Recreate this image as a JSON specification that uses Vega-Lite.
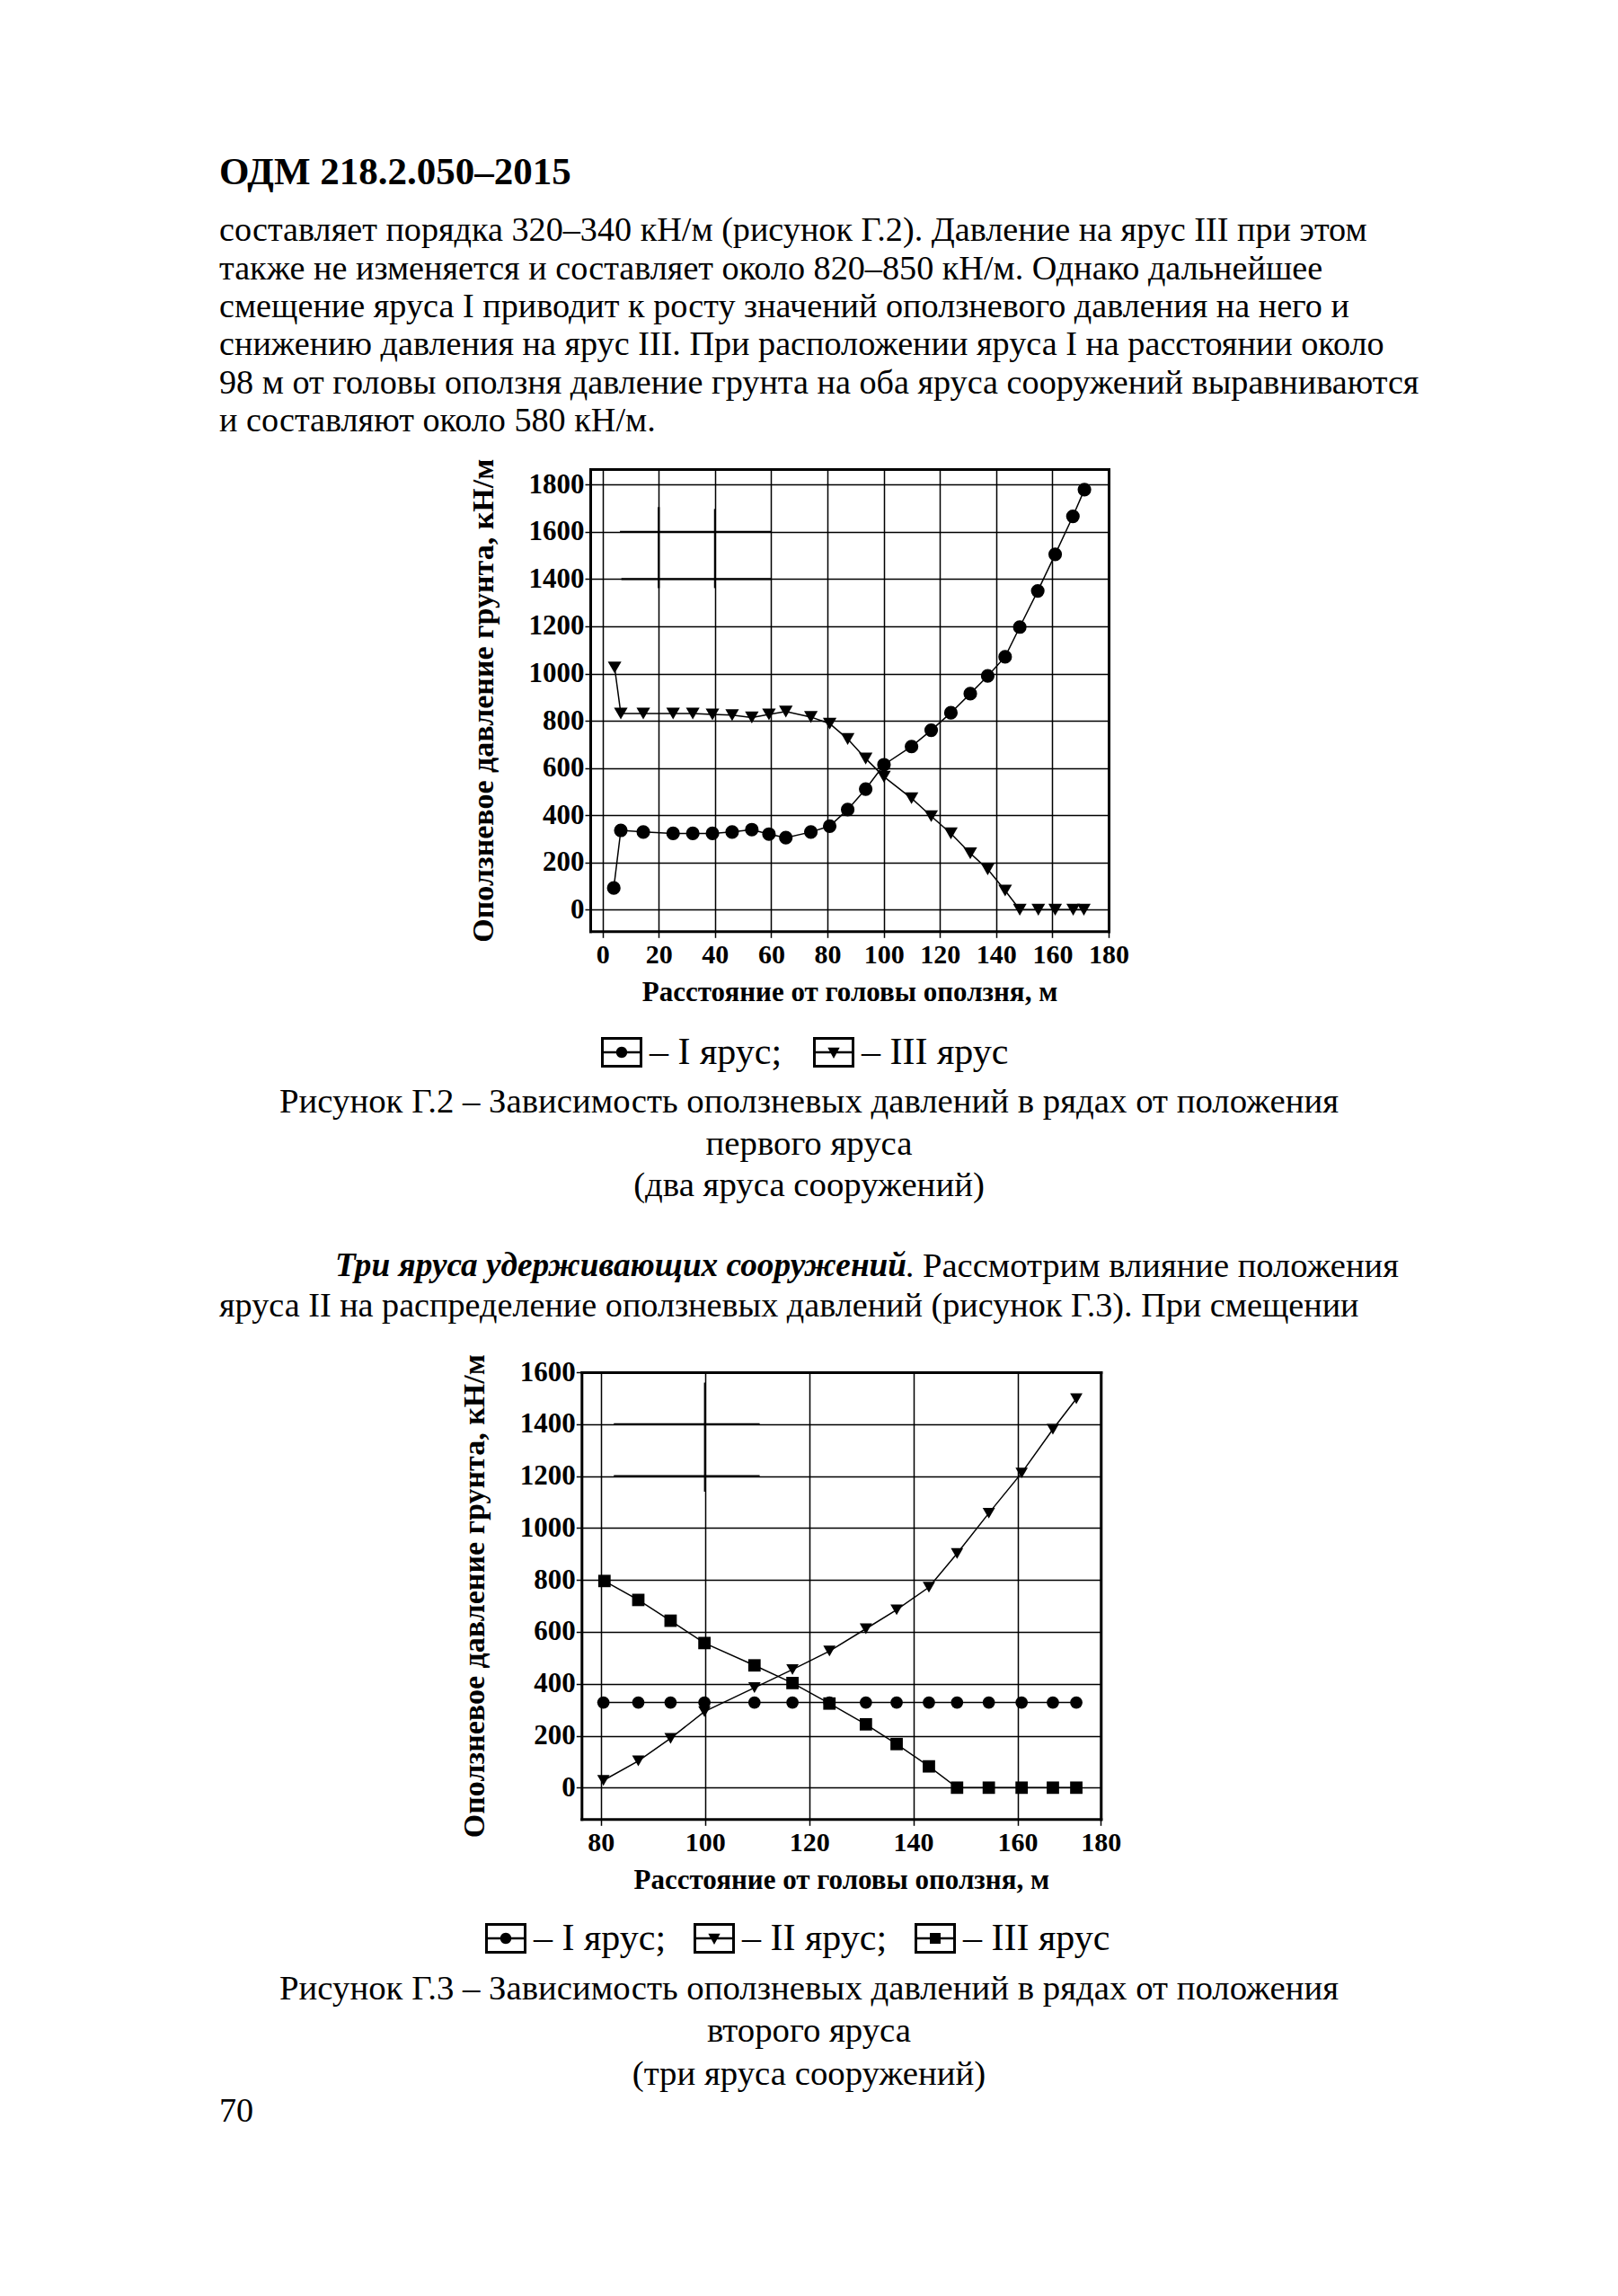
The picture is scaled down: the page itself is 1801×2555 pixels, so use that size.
{
  "$schema": "https://vega.github.io/schema/vega-lite/v6.json",
  "padding": {"left": 244, "top": 148, "right": 244, "bottom": 192},
  "background": "white",
  "bounds": "flush",
  "spacing": 0,
  "resolve": {"scale": {"shape": "independent"}, "legend": {"shape": "independent"}},
  "config": {
    "view": {"stroke": null},
    "text": {"font": "Liberation Serif", "color": "black", "baseline": "middle"},
    "axis": {
      "labelFont": "Liberation Serif", "labelFontWeight": "bold", "labelFontSize": 30, "labelColor": "black",
      "titleFont": "Liberation Serif", "titleFontWeight": "bold", "titleFontSize": 31, "titleColor": "black",
      "grid": true, "gridColor": "black", "gridOpacity": 1, "gridWidth": 1.5,
      "tickColor": "black", "tickWidth": 1.5, "domain": false, "labelOverlap": false, "labelFlush": false,
      "domainColor": "black", "domainWidth": 3, "domainCap": "square"
    },
    "axisX": {"tickSize": 7, "labelPadding": 4, "titlePadding": 12},
    "axisY": {"tickSize": 6, "labelPadding": 1, "titlePadding": 33, "labelFontSize": 31, "titleFontSize": 34, "format": "d"},
    "legend": {"labelFont": "Liberation Serif", "labelFontSize": 42, "labelColor": "black", "labelLimit": 600, "padding": 0, "symbolSize": 2116, "symbolStrokeWidth": 0, "symbolFillColor": "black", "symbolOpacity": 1, "labelOffset": 8}
  },
  "datasets": {
    "g2": [
      {"s": "I", "x": 4.0, "y": 92}, {"s": "I", "x": 6.5, "y": 336}, {"s": "I", "x": 14.5, "y": 329}, {"s": "I", "x": 25.1, "y": 323},
      {"s": "I", "x": 32.1, "y": 323}, {"s": "I", "x": 39.1, "y": 323}, {"s": "I", "x": 46.1, "y": 329}, {"s": "I", "x": 53.1, "y": 339},
      {"s": "I", "x": 59.2, "y": 320}, {"s": "I", "x": 65.2, "y": 305}, {"s": "I", "x": 74.1, "y": 329}, {"s": "I", "x": 80.8, "y": 354},
      {"s": "I", "x": 87.2, "y": 424}, {"s": "I", "x": 93.6, "y": 511}, {"s": "I", "x": 100.1, "y": 614}, {"s": "I", "x": 109.9, "y": 691},
      {"s": "I", "x": 116.9, "y": 760}, {"s": "I", "x": 123.9, "y": 834}, {"s": "I", "x": 130.8, "y": 915}, {"s": "I", "x": 137.0, "y": 990},
      {"s": "I", "x": 143.2, "y": 1071}, {"s": "I", "x": 148.4, "y": 1197}, {"s": "I", "x": 154.8, "y": 1350}, {"s": "I", "x": 161.0, "y": 1505},
      {"s": "I", "x": 167.3, "y": 1666}, {"s": "I", "x": 171.4, "y": 1779},
      {"s": "III", "x": 4.3, "y": 1026}, {"s": "III", "x": 6.5, "y": 831}, {"s": "III", "x": 14.5, "y": 831}, {"s": "III", "x": 25.1, "y": 831},
      {"s": "III", "x": 32.1, "y": 831}, {"s": "III", "x": 39.1, "y": 827}, {"s": "III", "x": 46.1, "y": 824}, {"s": "III", "x": 53.1, "y": 814},
      {"s": "III", "x": 59.2, "y": 827}, {"s": "III", "x": 65.2, "y": 839}, {"s": "III", "x": 74.1, "y": 816}, {"s": "III", "x": 80.8, "y": 788},
      {"s": "III", "x": 87.2, "y": 723}, {"s": "III", "x": 93.6, "y": 640}, {"s": "III", "x": 100.1, "y": 563}, {"s": "III", "x": 109.9, "y": 472},
      {"s": "III", "x": 116.9, "y": 396}, {"s": "III", "x": 123.9, "y": 323}, {"s": "III", "x": 130.8, "y": 239}, {"s": "III", "x": 137.0, "y": 171},
      {"s": "III", "x": 143.2, "y": 81}, {"s": "III", "x": 148.4, "y": 0}, {"s": "III", "x": 155.0, "y": 0}, {"s": "III", "x": 161.0, "y": 0},
      {"s": "III", "x": 167.4, "y": 0}, {"s": "III", "x": 171.2, "y": 0}
    ],
    "a2": [
      {"x": 6.2, "x2": 60.1, "y": 1600, "y2": 1600},
      {"x": 6.7, "x2": 60.0, "y": 1400, "y2": 1400},
      {"x": 20, "x2": 20, "y": 1362, "y2": 1705},
      {"x": 40, "x2": 40, "y": 1362, "y2": 1697}
    ],
    "g3": [
      {"s": "I", "x": 80.5, "y": 328}, {"s": "I", "x": 87.2, "y": 328}, {"s": "I", "x": 93.4, "y": 328}, {"s": "I", "x": 99.9, "y": 328},
      {"s": "I", "x": 109.5, "y": 328}, {"s": "I", "x": 116.8, "y": 328}, {"s": "I", "x": 123.9, "y": 328}, {"s": "I", "x": 130.9, "y": 328},
      {"s": "I", "x": 136.8, "y": 328}, {"s": "I", "x": 143.0, "y": 328}, {"s": "I", "x": 148.4, "y": 328}, {"s": "I", "x": 154.5, "y": 328},
      {"s": "I", "x": 160.8, "y": 328}, {"s": "I", "x": 166.8, "y": 328}, {"s": "I", "x": 171.3, "y": 328},
      {"s": "II", "x": 80.5, "y": 28}, {"s": "II", "x": 87.2, "y": 103}, {"s": "II", "x": 93.4, "y": 190}, {"s": "II", "x": 99.9, "y": 293},
      {"s": "II", "x": 109.5, "y": 385}, {"s": "II", "x": 116.8, "y": 455}, {"s": "II", "x": 123.9, "y": 526}, {"s": "II", "x": 130.9, "y": 612},
      {"s": "II", "x": 136.8, "y": 685}, {"s": "II", "x": 143.0, "y": 772}, {"s": "II", "x": 148.4, "y": 902}, {"s": "II", "x": 154.5, "y": 1057},
      {"s": "II", "x": 160.8, "y": 1212}, {"s": "II", "x": 166.8, "y": 1380}, {"s": "II", "x": 171.3, "y": 1498},
      {"s": "III", "x": 80.7, "y": 796}, {"s": "III", "x": 87.2, "y": 723}, {"s": "III", "x": 93.4, "y": 643}, {"s": "III", "x": 99.9, "y": 557},
      {"s": "III", "x": 109.5, "y": 471}, {"s": "III", "x": 116.8, "y": 403}, {"s": "III", "x": 123.9, "y": 324}, {"s": "III", "x": 130.9, "y": 244},
      {"s": "III", "x": 136.8, "y": 168}, {"s": "III", "x": 143.0, "y": 82}, {"s": "III", "x": 148.4, "y": 0}, {"s": "III", "x": 154.5, "y": 0},
      {"s": "III", "x": 160.8, "y": 0}, {"s": "III", "x": 166.8, "y": 0}, {"s": "III", "x": 171.3, "y": 0}
    ],
    "a3": [
      {"x": 82.5, "x2": 110.5, "y": 1400, "y2": 1400},
      {"x": 82.5, "x2": 110.5, "y": 1200, "y2": 1200},
      {"x": 100, "x2": 100, "y": 1140, "y2": 1560}
    ]
  },
  "vconcat": [
    {
      "width": 1313, "height": 88,
      "data": {"values": [{"i": 0, "t": "ОДМ 218.2.050–2015"}]},
      "mark": {"type": "text", "align": "left", "fontSize": 43, "fontWeight": "bold"},
      "encoding": {
        "y": {"field": "i", "type": "ordinal", "axis": null, "scale": {"type": "point", "padding": 0.5}},
        "x": {"value": 0},
        "text": {"field": "t"}
      }
    },
    {
      "width": 1313, "height": 254.4,
      "data": {"values": [
        {"i": 0, "t": "составляет порядка 320–340 кН/м (рисунок Г.2). Давление на ярус III при этом"},
        {"i": 1, "t": "также не изменяется и составляет около 820–850 кН/м. Однако дальнейшее"},
        {"i": 2, "t": "смещение яруса I приводит к росту значений оползневого давления на него и"},
        {"i": 3, "t": "снижению давления на ярус III. При расположении яруса I на расстоянии около"},
        {"i": 4, "t": "98 м от головы оползня давление грунта на оба яруса сооружений выравниваются"},
        {"i": 5, "t": "и составляют около 580 кН/м."}
      ]},
      "mark": {"type": "text", "align": "left", "fontSize": 38.2},
      "encoding": {
        "y": {"field": "i", "type": "ordinal", "axis": null, "scale": {"type": "point", "padding": 0.5}},
        "x": {"value": 0},
        "text": {"field": "t"}
      }
    },
    {"width": 10, "height": 30.3, "data": {"values": []}, "mark": "text", "encoding": {}},
    {
      "width": 990, "height": 514.3,
      "resolve": {"axis": {"x": "independent", "y": "independent"}, "scale": {"shape": "independent"}},
      "layer": [
        {
          "data": {"name": "a2"},
          "mark": {"type": "rule", "color": "black", "strokeWidth": 2.2},
          "encoding": {
            "x": {"field": "x", "type": "quantitative", "scale": {"domain": [-4.37, 180], "range": [413, 990], "nice": false, "zero": false},
                  "axis": {"orient": "bottom", "domain": true, "values": [0, 20, 40, 60, 80, 100, 120, 140, 160, 180], "title": "Расстояние от головы оползня, м"}},
            "x2": {"field": "x2"},
            "y": {"field": "y", "type": "quantitative", "scale": {"domain": [-91.3, 1866], "nice": false, "zero": false},
                  "axis": {"orient": "left", "offset": -413, "domain": true, "values": [0, 200, 400, 600, 800, 1000, 1200, 1400, 1600, 1800], "title": "Оползневое давление грунта, кН/м"}},
            "y2": {"field": "y2"}
          }
        },
        {
          "data": {"name": "g2"},
          "mark": {"type": "line", "color": "black", "strokeWidth": 1.5},
          "encoding": {
            "x": {"field": "x", "type": "quantitative", "axis": {"orient": "top", "domain": true, "labels": false, "ticks": false, "grid": false, "title": null}},
            "y": {"field": "y", "type": "quantitative", "axis": {"orient": "right", "domain": true, "labels": false, "ticks": false, "grid": false, "title": null}},
            "detail": {"field": "s", "type": "nominal"}
          }
        },
        {
          "data": {"name": "g2"},
          "mark": {"type": "point", "filled": true, "color": "black", "opacity": 1, "size": 230},
          "encoding": {
            "x": {"field": "x", "type": "quantitative", "axis": null},
            "y": {"field": "y", "type": "quantitative", "axis": null},
            "shape": {"field": "s", "type": "nominal", "scale": {"domain": ["I", "III"], "range": ["circle", "triangle-down"]}, "legend": null}
          }
        },
        {
          "data": {"name": "g2"},
          "mark": {"type": "point", "filled": true, "color": "black", "opacity": 0},
          "encoding": {
            "x": {"field": "x", "type": "quantitative", "axis": null},
            "y": {"field": "y", "type": "quantitative", "axis": null},
            "shape": {
              "field": "s", "type": "nominal",
              "scale": {"domain": ["I", "III"], "range": [
                "M-1,-0.74H1V0.74H-1Z M-0.87,-0.61V0.61H0.87V-0.61Z M-0.87,-0.055H0.87V0.055H-0.87Z M-0.27,0A0.27,0.27 0 1,1 0.27,0A0.27,0.27 0 1,1 -0.27,0Z",
                "M-1,-0.74H1V0.74H-1Z M-0.87,-0.61V0.61H0.87V-0.61Z M-0.87,-0.055H0.87V0.055H-0.87Z M-0.29,-0.23H0.29L0,0.3Z"
              ]},
              "legend": {
                "orient": "none", "legendX": 425, "legendY": 626, "direction": "horizontal", "title": null,
                "columnPadding": 34, "symbolOpacity": 1, "symbolFillColor": "black",
                "labelExpr": "datum.label == 'I' ? '– I ярус;' : '– III ярус'"
              }
            }
          }
        }
      ]
    },
    {"width": 10, "height": 165.75, "data": {"values": []}, "mark": "text", "encoding": {}},
    {
      "width": 1313, "height": 139.5,
      "data": {"values": [
        {"i": 0, "t": "Рисунок Г.2 – Зависимость оползневых давлений в рядах от положения"},
        {"i": 1, "t": "первого яруса\u00a0\u00a0\u00a0\u00a0\u00a0\u00a0\u00a0"},
        {"i": 2, "t": "(два яруса сооружений)"}
      ]},
      "mark": {"type": "text", "align": "center", "fontSize": 38.8},
      "encoding": {
        "y": {"field": "i", "type": "ordinal", "axis": null, "scale": {"type": "point", "padding": 0.5}},
        "text": {"field": "t"}
      }
    },
    {"width": 10, "height": 42.25, "data": {"values": []}, "mark": "text", "encoding": {}},
    {
      "width": 1313, "height": 90,
      "layer": [
        {
          "data": {"values": [{"i": 0, "t": "Три яруса удерживающих сооружений"}]},
          "mark": {"type": "text", "align": "left", "fontSize": 37.3, "fontWeight": "bold", "fontStyle": "italic"},
          "encoding": {
            "y": {"field": "i", "type": "ordinal", "axis": null, "scale": {"type": "point", "padding": 0.5, "domain": [0, 1]}},
            "x": {"value": 129},
            "text": {"field": "t"}
          }
        },
        {
          "data": {"values": [{"i": 0, "t": ". Рассмотрим влияние положения"}]},
          "mark": {"type": "text", "align": "right", "fontSize": 38.6},
          "encoding": {
            "y": {"field": "i", "type": "ordinal"},
            "x": {"value": 1313},
            "text": {"field": "t"}
          }
        },
        {
          "data": {"values": [{"i": 1, "t": "яруса II на распределение оползневых давлений (рисунок Г.3). При смещении"}]},
          "mark": {"type": "text", "align": "left", "fontSize": 38.2},
          "encoding": {
            "y": {"field": "i", "type": "ordinal"},
            "x": {"value": 0},
            "text": {"field": "t"}
          }
        }
      ]
    },
    {"width": 10, "height": 50.2, "data": {"values": []}, "mark": "text", "encoding": {}},
    {
      "width": 981.3, "height": 497.3,
      "resolve": {"axis": {"x": "independent", "y": "independent"}, "scale": {"shape": "independent"}},
      "layer": [
        {
          "data": {"name": "a3"},
          "mark": {"type": "rule", "color": "black", "strokeWidth": 2.2},
          "encoding": {
            "x": {"field": "x", "type": "quantitative", "scale": {"domain": [76.3, 176], "range": [403.3, 981.3], "nice": false, "zero": false},
                  "axis": {"orient": "bottom", "domain": true, "values": [80, 100, 120, 140, 160, 176], "labelExpr": "datum.value > 170 ? '180' : datum.label", "title": "Расстояние от головы оползня, м"}},
            "x2": {"field": "x2"},
            "y": {"field": "y", "type": "quantitative", "scale": {"domain": [-121, 1600], "nice": false, "zero": false},
                  "axis": {"orient": "left", "offset": -403.3, "domain": true, "values": [0, 200, 400, 600, 800, 1000, 1200, 1400, 1600], "title": "Оползневое давление грунта, кН/м"}},
            "y2": {"field": "y2"}
          }
        },
        {
          "data": {"name": "g3"},
          "mark": {"type": "line", "color": "black", "strokeWidth": 1.5},
          "encoding": {
            "x": {"field": "x", "type": "quantitative", "axis": {"orient": "top", "domain": true, "labels": false, "ticks": false, "grid": false, "title": null}},
            "y": {"field": "y", "type": "quantitative", "axis": {"orient": "right", "domain": true, "labels": false, "ticks": false, "grid": false, "title": null}},
            "detail": {"field": "s", "type": "nominal"}
          }
        },
        {
          "data": {"name": "g3"},
          "mark": {"type": "point", "filled": true, "color": "black", "opacity": 1, "size": 190},
          "encoding": {
            "x": {"field": "x", "type": "quantitative", "axis": null},
            "y": {"field": "y", "type": "quantitative", "axis": null},
            "shape": {"field": "s", "type": "nominal", "scale": {"domain": ["I", "II", "III"], "range": ["circle", "triangle-down", "square"]}, "legend": null}
          }
        },
        {
          "data": {"name": "g3"},
          "mark": {"type": "point", "filled": true, "color": "black", "opacity": 0},
          "encoding": {
            "x": {"field": "x", "type": "quantitative", "axis": null},
            "y": {"field": "y", "type": "quantitative", "axis": null},
            "shape": {
              "field": "s", "type": "nominal",
              "scale": {"domain": ["I", "II", "III"], "range": [
                "M-1,-0.74H1V0.74H-1Z M-0.87,-0.61V0.61H0.87V-0.61Z M-0.87,-0.055H0.87V0.055H-0.87Z M-0.27,0A0.27,0.27 0 1,1 0.27,0A0.27,0.27 0 1,1 -0.27,0Z",
                "M-1,-0.74H1V0.74H-1Z M-0.87,-0.61V0.61H0.87V-0.61Z M-0.87,-0.055H0.87V0.055H-0.87Z M-0.29,-0.23H0.29L0,0.3Z",
                "M-1,-0.74H1V0.74H-1Z M-0.87,-0.61V0.61H0.87V-0.61Z M-0.87,-0.055H0.87V0.055H-0.87Z M-0.26,-0.26H0.26V0.26H-0.26Z"
              ]},
              "legend": {
                "orient": "none", "legendX": 296, "legendY": 607, "direction": "horizontal", "title": null,
                "columnPadding": 30, "symbolOpacity": 1, "symbolFillColor": "black",
                "labelExpr": "datum.label == 'I' ? '– I ярус;' : datum.label == 'II' ? '– II ярус;\u00a0\u00a0' : '– III ярус'"
              }
            }
          }
        }
      ]
    },
    {"width": 10, "height": 163.25, "data": {"values": []}, "mark": "text", "encoding": {}},
    {
      "width": 1313, "height": 142.5,
      "data": {"values": [
        {"i": 0, "t": "Рисунок Г.3 – Зависимость оползневых давлений в рядах от положения"},
        {"i": 1, "t": "второго яруса"},
        {"i": 2, "t": "(три яруса сооружений)"}
      ]},
      "mark": {"type": "text", "align": "center", "fontSize": 38.8},
      "encoding": {
        "y": {"field": "i", "type": "ordinal", "axis": null, "scale": {"type": "point", "padding": 0.5}},
        "text": {"field": "t"}
      }
    },
    {
      "width": 1313, "height": 36.5,
      "data": {"values": [{"i": 0, "t": "70"}]},
      "mark": {"type": "text", "align": "left", "fontSize": 38.2},
      "encoding": {
        "y": {"field": "i", "type": "ordinal", "axis": null, "scale": {"type": "point", "padding": 0.5}},
        "x": {"value": 0},
        "text": {"field": "t"}
      }
    }
  ]
}
